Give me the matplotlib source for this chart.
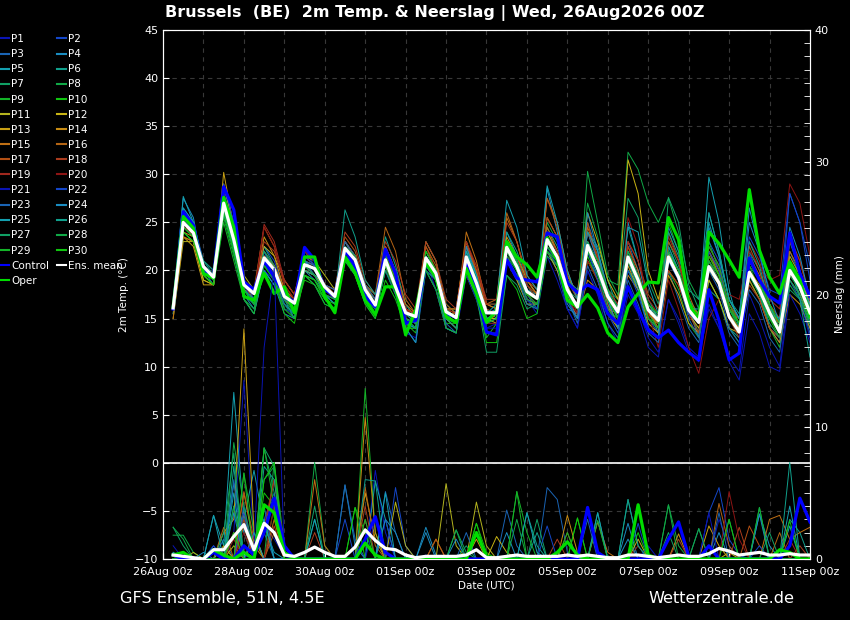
import numpy as np
import matplotlib.pyplot as plt
from matplotlib.ticker import MultipleLocator
from matplotlib.lines import Line2D

# forecast steps (hours after 26Aug 00z), 6-hourly
hours = list(range(6, 385, 6))
xtick_hours = [0, 48, 96, 144, 192, 240, 288, 336, 384]
xtick_labels = ["26Aug 00z", "28Aug 00z", "30Aug 00z", "01Sep 00z", "03Sep 00z",
                "05Sep 00z", "07Sep 00z", "09Sep 00z", "11Sep 00z"]

member_names = ["P%d" % k for k in range(1, 31)]
member_colors = ["#0a14b4", "#1446c8", "#1a64b4", "#1a8cc0", "#14a0b0", "#10a08c", "#10a064",
                 "#10a846", "#14b428", "#10c410", "#b4b41e", "#c8b414", "#c8a014", "#c88c14",
                 "#c07014", "#b46414", "#b45014", "#aa3c1e", "#a0281e", "#8c1414"]
member_colors = member_colors + member_colors[:10]

# 2m temperature (°C)
temp_mean = [16.1, 25.0, 23.9, 20.4, 19.3, 27.0, 23.2, 18.5, 17.6, 21.3, 20.1, 17.3, 16.6, 20.6, 20.2, 18.3,
             17.3, 22.3, 21.1, 18.0, 16.4, 21.1, 18.3, 15.6, 15.2, 21.3, 19.7, 15.7, 15.1, 21.4, 18.7, 15.6,
             15.6, 22.4, 20.4, 17.8, 17.1, 23.2, 21.4, 18.0, 16.2, 22.6, 20.2, 17.3, 15.7, 21.4, 19.0, 15.9,
             14.8, 21.4, 19.3, 15.9, 14.6, 20.4, 18.7, 15.2, 13.6, 19.8, 18.0, 15.6, 13.6, 20.0, 18.3, 15.6]
temp_control = [16.0, 26.1, 24.7, 19.8, 19.5, 28.7, 26.3, 18.8, 18.0, 21.0, 19.3, 17.6, 16.6, 22.4, 21.1, 18.0,
                17.4, 22.1, 20.4, 17.3, 16.2, 22.2, 19.7, 14.5, 14.8, 20.8, 19.7, 15.6, 15.1, 21.1, 18.0, 13.6,
                13.3, 21.1, 19.2, 19.0, 18.8, 23.9, 23.5, 18.7, 17.7, 18.5, 18.0, 15.5, 14.5, 18.3, 15.9, 13.8,
                13.0, 13.8, 12.5, 11.5, 10.7, 18.0, 14.8, 10.7, 11.4, 21.3, 19.0, 17.3, 16.6, 23.9, 19.7, 17.3]
temp_oper = [16.2, 25.6, 24.4, 19.7, 19.2, 27.6, 24.5, 17.3, 16.9, 19.7, 17.6, 18.3, 15.6, 21.4, 21.4, 17.3,
             15.6, 21.4, 19.8, 16.9, 15.4, 18.3, 18.3, 13.3, 15.9, 20.8, 19.3, 15.2, 14.6, 20.2, 17.6, 14.6,
             15.9, 23.0, 21.4, 20.6, 19.3, 23.4, 21.1, 16.9, 16.2, 17.5, 16.1, 13.5, 12.5, 16.2, 17.6, 18.8,
             18.7, 25.5, 23.2, 16.6, 14.8, 24.0, 22.8, 21.1, 19.3, 28.4, 22.1, 19.3, 17.6, 20.9, 19.0, 15.2]
temp_members = [
    # P1
    [16, 25.5, 24, 20, 19, 28, 24, 19, 17.5, 22, 19, 17, 16, 21, 20.5, 18, 17, 23, 21.5, 18.5, 16, 22, 19, 14.5,
     14, 21, 18, 15, 14, 20, 17, 14, 14.5, 21, 19.5, 17, 15.5, 21.5, 19, 16, 14, 20, 17.5, 14.5, 12.5, 18.5, 16, 13,
     11.5, 17, 15, 12, 11, 16, 14, 11, 9.5, 17.5, 15, 12, 10, 18.5, 17, 13],
    # P2
    [15.5, 26, 24.5, 20.5, 19.5, 28.5, 25, 18, 17, 22.5, 21, 18, 17, 22, 20.5, 18, 17, 22.5, 21, 17.5, 16, 21.5, 19, 15,
     14.5, 20.5, 19.5, 15.5, 15, 22, 19, 14.5, 14.5, 21, 19, 17.5, 16.5, 24, 22, 17, 15, 24, 21, 18, 16, 20, 18, 15,
     14, 22, 20, 16.5, 15, 23, 21, 16, 14.5, 22, 19, 16, 15, 28, 25, 19],
    # P3
    [16, 26.5, 25, 20, 19, 27.5, 24, 18, 16.5, 20.5, 19.5, 17, 16.5, 21, 19.5, 18, 17.5, 23, 21, 18, 17, 22.5, 20, 16,
     14.5, 22, 20, 16, 15, 22, 19, 15, 15, 23, 21, 17.5, 16, 22, 20, 16, 15.5, 25, 22, 18, 15, 23, 20, 15,
     13.5, 20, 17, 14, 12.5, 19, 17, 13.5, 12, 21, 19, 14, 12.5, 22, 19.5, 16],
    # P4
    [16, 27.5, 25.5, 20, 18.5, 26, 22, 17.5, 16, 20, 18.5, 16.5, 15.5, 20, 19, 17.5, 16.5, 21, 20, 17.5, 16, 20.5, 18, 14,
     12.5, 20, 18, 14, 13.5, 21, 18, 15.5, 16, 24, 21.5, 18.5, 17, 28.5, 24, 19, 17, 24, 21, 16.5, 14, 25, 21, 16,
     13.5, 22.5, 20, 16, 13, 26, 22, 17, 15, 26.5, 22, 16.5, 14, 23, 20, 16],
    # P5
    [16.5, 27.7, 25, 20.5, 19.5, 26.5, 23, 18, 17, 21.5, 20.5, 18, 16.5, 20, 19.5, 18.5, 18, 23, 21.5, 18.5, 17.5, 22, 19, 15,
     14, 20, 19, 15.5, 15, 21, 18.5, 15, 15.5, 22, 20, 18, 17.5, 23.5, 22, 18.5, 16, 22, 19.5, 17, 14, 20, 18.5, 16,
     15.5, 22, 19, 15.5, 15.5, 29.7, 25, 18, 14, 20, 17.5, 14, 13, 21, 18.5, 14.5],
    # P6
    [16, 25.5, 24.5, 21, 19.5, 27, 22.5, 18.5, 18, 22.5, 20.5, 17, 16, 20, 19.5, 18.5, 17.5, 22, 21, 18, 17, 23.5, 20.5, 16.5,
     15, 23, 21, 16.5, 15.5, 23, 19.5, 16, 15, 24, 22, 19, 17.5, 24.5, 22.5, 19, 18, 24, 22.5, 19, 16, 24.5, 21, 17,
     15, 22.5, 20, 16, 13.5, 18, 17, 14, 13, 22, 20, 16.5, 14.5, 20, 17.5, 14],
    # P7
    [15.5, 24, 23, 20, 19, 26, 22, 17, 15.5, 20, 18.5, 16.5, 15, 19.5, 19, 17, 16, 21, 20, 17.5, 16, 21, 18, 15.5,
     15, 21.5, 19.5, 16, 16, 22.5, 19, 16.5, 16.5, 22, 20, 17, 16, 21.5, 20.5, 18, 17, 22.5, 20.5, 18, 17, 27.5, 25.5, 19,
     16.5, 23, 20.5, 17, 15.5, 22, 19.5, 16, 14, 19, 17, 15, 14, 18, 17, 14.5],
    # P8
    [16, 24.5, 23.5, 20.5, 19, 26.5, 22.5, 18, 17, 21, 19.5, 17.5, 16.5, 21, 20.5, 18, 17.5, 22.5, 21, 17.5, 15.5, 20, 18, 15,
     14.5, 21, 19, 15, 14.5, 22, 19, 15, 15, 22.5, 21, 18.5, 17, 25, 23, 19.5, 17, 27, 23.5, 19, 18.5, 32.3, 30.5, 27,
     25, 27.5, 24, 19, 17, 23, 20, 16, 14, 20.5, 18, 15.5, 13.5, 19.5, 18, 15],
    # P9
    [16, 24, 23, 19.5, 18.5, 25.5, 21.5, 17.5, 16.5, 21, 19, 16.5, 15.5, 19.5, 19, 17.5, 16.5, 22, 20, 17, 15.5, 20, 17.5, 14,
     14, 20.5, 19, 15, 14, 19.5, 17, 13, 14.5, 21, 19.5, 16.5, 16, 22.5, 21, 17, 15, 21, 19.5, 16, 14.5, 22, 19, 15.5,
     14, 20, 18, 14.5, 13, 19, 17, 14, 12.5, 19, 17, 14, 12, 18.5, 17, 14.5],
    # P10
    [16, 25, 24, 20, 19, 27.5, 23.5, 18, 17, 20.5, 19.5, 16, 15.5, 19, 18.5, 17, 16, 21.5, 19.5, 16.5, 15, 19, 17, 14,
     14, 20, 18, 14.5, 14.5, 20, 17.5, 12.5, 12.5, 19.5, 18, 15, 15.5, 22, 21, 17.5, 16.5, 21.5, 19, 16, 15, 20, 18, 15,
     14.5, 25, 22, 17, 15, 21, 18.5, 15.5, 14, 19.5, 17.5, 15, 13, 20.5, 19, 16],
    # P11
    [15, 23, 23, 19, 18.5, 28, 24, 19.5, 18, 22.5, 21.5, 19, 17.5, 21.5, 21, 19.5, 18, 22.5, 21, 18.5, 17, 21, 19, 15.5,
     15.5, 21, 19, 15.5, 15.5, 19.5, 17.5, 15, 14.5, 21, 19, 16.5, 16.5, 22, 20, 17, 16, 23, 20.5, 17.5, 16, 21, 19, 16.5,
     15, 22, 19.5, 16, 14.5, 20, 18.5, 15, 14, 20, 18, 15.5, 14, 21.5, 19.5, 16.5],
    # P12
    [16, 23.5, 23, 19, 18.5, 29, 24.5, 19, 17.5, 21.5, 20.5, 18, 16.5, 20, 19.5, 18, 17.5, 22, 20.5, 17.5, 16.5, 21.5, 19.5, 16,
     15, 21, 19.5, 16, 15, 20, 17.5, 15, 15, 22, 20.5, 18, 17, 25.5, 23.5, 19.5, 17.5, 26, 23, 19, 17, 31.5, 28, 20,
     17, 22, 19, 15.5, 14, 19, 17, 14, 13.5, 20, 18.5, 16, 14, 20, 18, 15.5],
    # P13
    [16, 23.5, 22.5, 18.5, 18.5, 30.2, 24.5, 18.5, 16.5, 21, 19.5, 17, 16, 20, 19.5, 18, 17, 22, 21, 18, 16.5, 21.5, 19, 16,
     15.5, 22, 20, 16, 16, 23, 20, 16.5, 16, 23.5, 21.5, 19, 17.5, 24, 22, 18.5, 16, 21, 19, 15.5, 14, 20.5, 18, 14.5,
     13.5, 19.5, 17.5, 14.5, 13.5, 21.5, 19.5, 16, 15, 21, 19, 16, 13.5, 19, 17.5, 15],
    # P14
    [16, 24, 23.5, 19.5, 18.5, 27, 23, 18, 17.5, 23.5, 21.5, 18, 17, 21, 20, 18.5, 17.5, 22.5, 21.5, 18.5, 16.5, 20.5, 18, 15,
     14.5, 21, 19, 15, 14, 20.5, 18, 14.5, 15.5, 22.5, 20, 17, 16.5, 23, 21, 17.5, 15, 19, 18, 16, 15.5, 19.5, 18, 15.5,
     14.5, 21, 19.5, 16.5, 15.5, 22, 20, 16.5, 14.5, 19, 17, 14, 12.5, 17.5, 16.5, 14],
    # P15
    [15, 23.5, 23, 20, 19, 26.5, 23, 19, 18, 24.5, 22.5, 18.5, 17, 21, 20.5, 18.5, 17.5, 23, 21.5, 18, 16.5, 22.5, 20, 16.5,
     15.5, 23, 21, 16, 15.5, 24, 21, 16.5, 16, 25.5, 23, 19, 17.5, 24.5, 22, 17.5, 16, 24.5, 21.5, 17.5, 15.5, 22.5, 20, 16,
     14, 20, 18.5, 15.5, 14.5, 21, 19, 15, 13.5, 21.5, 19.5, 16, 14.5, 22, 20, 16.5],
    # P16
    [16, 24.5, 23.5, 20, 19, 27.5, 23.5, 18.5, 17, 21.5, 20, 17, 16, 20.5, 19.5, 17.5, 17, 23, 21.5, 18.5, 17.5, 24.5, 22, 17,
     15.5, 22.5, 20.5, 16.5, 15.5, 22.5, 20, 16.5, 17, 26, 23, 19.5, 18, 27.5, 25, 20, 17, 23, 20.5, 16.5, 14.5, 21, 18.5, 15.5,
     14.5, 23, 21, 17.5, 15, 22, 19.5, 15.5, 14, 21, 19, 15.5, 14.5, 20, 18, 15],
    # P17
    [16, 25, 24, 20.5, 19.5, 27, 23.5, 19, 17.5, 22, 20.5, 18, 17, 21.5, 21, 18.5, 18, 23.5, 22, 18.5, 17, 22.5, 19.5, 16,
     15.5, 22.5, 20, 16, 16, 23, 20, 16, 15.5, 23, 21.5, 18.5, 17.5, 27.5, 24.5, 19.5, 17.5, 25, 21, 17, 15, 23, 21, 17.5,
     16, 24, 21, 16.5, 14.5, 22, 20, 16.5, 15, 22.5, 20, 16.5, 15, 23.5, 21, 17],
    # P18
    [16, 24.5, 24, 20.5, 19.5, 27, 23.5, 18.5, 17.5, 23, 22, 19, 17.5, 22, 21, 18.5, 18, 24, 22.5, 19, 17.5, 23, 21, 17.5,
     16, 23, 21, 17, 16, 22.5, 20.5, 17, 17, 25, 23, 19, 18, 25.5, 23.5, 19, 17, 24, 21.5, 18, 16.5, 22.5, 19.5, 15,
     14, 20, 18.5, 15.5, 13.5, 21, 19, 15, 13, 18.5, 17, 14, 13, 19.5, 18.5, 15.5],
    # P19
    [16, 25, 23.5, 20, 19, 28, 23, 18.5, 17.5, 24.8, 23, 19, 17.5, 21.5, 20.5, 18, 17, 22.5, 20.5, 17.5, 16, 21.5, 19.5, 16,
     15.5, 22, 20, 16, 15.5, 23, 20.5, 16.5, 16.5, 23, 21, 18.5, 17, 23.5, 22, 18, 15.5, 22.5, 20, 17, 15.5, 23, 21, 17,
     15.5, 23.5, 21, 16.5, 14.5, 22.5, 20.5, 16, 15, 23, 21, 17, 16, 23, 21, 17],
    # P20
    [16, 25, 24, 20.5, 19.5, 26.5, 23, 18.5, 17.5, 24.5, 22.5, 18.5, 17, 22, 21, 18.5, 17.5, 22, 21, 18, 16, 21.5, 19, 16,
     15, 20.5, 19, 15.5, 14.5, 20.5, 18, 14.5, 14.5, 21.5, 20.5, 17.5, 16.5, 22, 20.5, 17, 15.5, 21, 19, 16, 14.5, 25.5, 22.5, 15.5,
     12, 19, 16, 12, 9.3, 15, 17, 17.5, 17, 22, 20.5, 19, 19.5, 29, 27, 21.5],
    # P21
    [16, 26, 24.5, 20, 19.5, 28, 24, 18.5, 16.5, 20, 19, 16, 15.5, 21, 20, 18, 17, 22.5, 21, 17.5, 15.5, 20, 17.5, 13.5,
     13, 20, 18, 14, 13.5, 19.5, 17, 14, 14, 22, 20, 17, 16, 22.5, 20.5, 16, 14, 20, 17.5, 13.5, 12.5, 17.5, 15.5, 12,
     11, 17, 14.5, 11.5, 10.5, 16.5, 14, 10.5, 8.6, 15.5, 13.5, 10, 9.5, 17.5, 15.5, 12.5],
    # P22
    [16, 25.5, 24, 20.5, 19.5, 29, 25, 19, 17, 21, 19.5, 17, 16.5, 21.5, 20.5, 18, 17.5, 22.5, 21, 18, 16.5, 21, 18.5, 15.5,
     14.5, 21.5, 19.5, 15.5, 15, 21.5, 18.5, 15.5, 15.5, 22.5, 21, 18, 17, 22, 20.5, 17, 15, 22, 19, 15.5, 13.5, 20, 17.5, 14,
     13, 21, 19, 15.5, 14.5, 22, 20, 16, 14.5, 23.5, 21.5, 18, 17.5, 28, 25, 20.5],
    # P23
    [16, 26, 25, 21, 20, 27.5, 23, 17.5, 16.5, 21, 19.5, 16.5, 15.5, 21, 20.5, 18.5, 18, 23, 21.5, 18.5, 17, 21.5, 18.5, 14.5,
     14, 21, 19, 14.5, 13.5, 21, 18, 13.5, 13.5, 21.5, 19.5, 16.5, 16, 22.5, 21, 17, 14.5, 20.5, 18, 14.5, 13, 19, 16.5, 13.5,
     12.5, 21, 19, 15, 13, 20, 18, 14, 12.5, 18, 16.5, 13, 11.5, 19, 17, 13.5],
    # P24
    [16, 25, 24, 20, 19, 26, 22, 17, 15.5, 20, 18.5, 15.5, 15, 20.5, 19.5, 17.5, 16.5, 21.5, 20.5, 17.5, 16, 21, 18.5, 14,
     12.5, 21, 19, 14, 13.5, 22.5, 19.5, 14.5, 15, 23, 21, 18, 17, 23, 21, 16.5, 15, 26, 22, 17, 14, 21, 18, 14,
     13, 24.5, 22, 17, 14.5, 24.5, 21.5, 17, 15, 25, 22, 17.5, 14.5, 24.5, 21.5, 17],
    # P25
    [16, 26.5, 25, 20.5, 19, 27, 22.5, 18, 16.5, 21, 20, 17.5, 16.5, 21, 20, 18, 17.5, 22, 20.5, 17.5, 16.5, 21.5, 18.5, 14.5,
     14, 21.5, 20, 15.5, 14.5, 22, 19.5, 15.5, 16.5, 27.3, 24.5, 19.5, 18, 28.8, 25, 20, 17, 24, 22, 18, 15, 24.5, 24, 18.5,
     15.5, 22, 20, 16, 16, 25, 21.5, 17, 15, 21.5, 19, 15.5, 15, 21, 19, 16.5],
    # P26
    [16, 25.5, 24.5, 20.5, 19.5, 27, 23, 18, 17, 22, 20, 17, 15, 20, 19.5, 17.5, 17, 26.3, 23.5, 19, 17.5, 22, 19.5, 15.5,
     14.5, 20.5, 19, 15, 14, 21, 18.5, 15, 15.5, 23, 21, 18, 17, 23.5, 21.5, 17.5, 16, 23, 21, 17, 15, 22, 19.5, 16.5,
     15, 24, 21.5, 18, 17, 26, 22, 17, 15.5, 23, 20.5, 16.5, 13.5, 20.5, 17, 11],
    # P27
    [16, 25, 24, 21, 20, 26.5, 22.5, 19, 17.5, 22, 20.5, 17.5, 15.5, 19.5, 18.5, 16.5, 16, 21, 19.5, 17, 15.5, 20, 17.5, 15,
     14.5, 22, 20, 16, 15, 21, 17.5, 11.5, 11.5, 19.5, 18.5, 16, 16.5, 23, 21.5, 17.5, 16.5, 23, 20, 16, 14.5, 21, 19, 15,
     14, 27.6, 25, 18.5, 16, 21, 19, 15, 13.5, 19.5, 17.5, 14.5, 13, 19, 17.5, 14.5],
    # P28
    [16, 24.5, 23.5, 20, 19, 26.5, 22, 17, 16, 21, 19.5, 17, 15.5, 20.5, 19.5, 17.5, 17, 22.5, 21.5, 18, 16.5, 21, 18, 15,
     14, 20.5, 19.5, 15, 14.5, 21, 18.5, 15.5, 15.5, 21.5, 20, 17, 16.5, 22, 20.5, 17.5, 16, 30.3, 25, 19.5, 17.5, 22, 19.5, 16,
     15, 22, 20, 16.5, 15, 21, 19.5, 16, 14.5, 20.5, 19, 16, 14, 19.5, 18, 15],
    # P29
    [16, 24.5, 23.5, 19.5, 18.5, 25, 21, 17, 15.5, 20.5, 19, 16, 15, 19.5, 18.5, 16.5, 16, 21, 19.5, 16.5, 15, 20.5, 18, 14.5,
     13.5, 20, 18, 14, 13.5, 20.5, 18, 14.5, 15, 22.5, 21, 17.5, 16.5, 22, 21, 17.5, 16.5, 22.5, 21, 18, 16, 21, 18.5, 15,
     14, 21.5, 20, 16.5, 15, 22.5, 20.5, 16.5, 14.5, 21.5, 19, 15, 13.5, 20.5, 18.5, 15.5],
    # P30
    [16, 24, 23, 19.5, 18.5, 26, 22, 18, 16.5, 20.5, 19, 15.5, 14.5, 19.5, 19, 17, 16.5, 22, 20.5, 17, 16, 21.5, 19, 15.5,
     15, 22, 20, 15.5, 15, 21, 18.5, 15.5, 15.5, 22, 20, 17.5, 17, 22.5, 21, 17.5, 16.5, 22, 20, 17, 15, 21, 19, 16.5,
     15.5, 21.5, 19.5, 16, 15.5, 21.5, 19.5, 16, 14.5, 21, 19, 16.5, 14.5, 20.5, 18.5, 15.5],
]

# precipitation (mm per 6 h)
rain_mean = [0.3, 0.2, 0.1, 0.0, 0.7, 0.7, 1.7, 2.6, 0.7, 2.7, 2.0, 0.3, 0.2, 0.5, 0.9, 0.5,
             0.2, 0.2, 0.9, 2.2, 1.4, 0.8, 0.7, 0.3, 0.1, 0.2, 0.2, 0.2, 0.2, 0.3, 0.7, 0.1,
             0.1, 0.2, 0.3, 0.2, 0.2, 0.2, 0.2, 0.3, 0.2, 0.3, 0.2, 0.1, 0.1, 0.3, 0.3, 0.2,
             0.1, 0.2, 0.3, 0.2, 0.2, 0.4, 0.8, 0.6, 0.3, 0.4, 0.5, 0.3, 0.3, 0.4, 0.3, 0.3]
rain_control = [0.3, 0, 0, 0, 0.5, 0, 0, 1, 0.3, 2, 4.6, 1, 0, 0, 0, 0,
                0, 0, 0, 1.5, 3.2, 0.5, 0, 0, 0, 0, 0, 0, 0, 0, 0, 0,
                0, 0, 0, 0, 0, 0, 0, 0, 0, 3.9, 0.5, 0, 0, 0, 0, 0,
                0, 1.5, 2.8, 0.2, 0, 1, 0, 0, 0, 0, 0, 0, 0, 1, 4.6, 2.8]
rain_oper = [0.3, 0.5, 0, 0, 0.7, 0.3, 0, 0.5, 0, 4.1, 3.5, 0.5, 0, 0, 0, 0,
             0, 0, 0, 1.2, 0.3, 0, 0, 0, 0, 0, 0, 0, 0, 0, 2, 0.2,
             0, 0, 0, 0, 0, 0, 0.5, 1.3, 0.3, 0, 0, 0, 0, 0, 4.1, 0.3,
             0, 0, 0, 0, 0, 0, 0, 0, 0, 0, 0, 0, 0.7, 0.5, 0, 0]
rain_members = [
    # P1
    [1, 0, 0, 0, 0, 0, 2, 13.5, 1, 2.5, 1.5, 0.2, 0, 0, 0, 0, 0, 0, 0, 0, 6.7, 2, 0, 0, 0, 0.3, 0, 0, 0, 0, 0, 0,
     0, 0, 0, 0, 0, 0, 0, 0, 0, 0, 0, 0, 0, 0, 0, 0, 0, 0, 0, 0, 0, 0, 3, 1, 0, 0, 0, 0, 0, 0, 0, 0],
    # P2
    [0, 0, 0, 0, 1, 0, 0, 0.3, 0, 3, 5, 0.5, 0, 0, 0, 0, 0, 0, 0, 0, 0, 0, 5.4, 1, 0, 0, 0, 0, 0, 0, 0, 0,
     0, 0, 0, 0, 0, 0, 0, 0, 0, 0, 0, 0, 0, 0, 0, 0, 0, 0, 0, 0, 0, 3.5, 5.4, 1.5, 0.3, 0, 0, 0, 0, 0, 0, 0],
    # P3
    [0, 0, 0, 0, 0, 1.5, 0, 4, 0.5, 2, 0, 0, 0, 0, 0, 0, 0, 0, 0, 0, 0, 5.1, 2, 0, 0, 0, 0, 0, 0, 0, 0, 0,
     0, 3.7, 1, 0, 0, 5.4, 4.5, 0.5, 0, 0, 0, 0, 0, 0, 0, 0, 0, 0, 0, 0, 0, 0, 0, 0, 0, 0, 0, 0, 0, 0, 0, 0],
    # P4
    [0.5, 0, 0, 0, 0, 0, 5.7, 2, 0, 0, 0, 0, 0, 0, 0, 0, 0, 5.6, 1, 0, 0, 0, 0, 0, 0, 2.4, 0.3, 0, 0, 0, 0, 0,
     0, 0, 0, 0, 0, 0, 0, 0, 0, 0, 0, 0, 0, 2.7, 0, 0, 0, 0, 0, 0, 0, 0, 2, 0, 0, 0, 3.4, 1, 0, 0, 0, 0],
    # P5
    [0, 0, 0, 0, 3.3, 1, 12.6, 3, 6.7, 2.5, 0.5, 0, 0, 0, 0, 0, 0, 0, 0, 0, 5.9, 3, 0, 0, 0, 0, 0, 0, 0, 0, 0, 0,
     0, 0, 0, 0, 0, 0, 0, 0, 0, 0, 0, 0, 0, 0, 0, 0, 0, 0, 0, 0, 0, 0, 0, 0, 0, 0, 0, 0, 0, 2.5, 0, 0],
    # P6
    [0, 0, 0, 0, 0, 0, 4, 0.5, 0, 3, 0, 0, 0, 0, 3, 0, 0, 0, 0, 0, 0, 0, 0, 0, 0, 0, 0, 0, 0, 0, 0, 0,
     0, 0, 0, 3.5, 1, 0, 0, 0, 0, 0, 3.5, 0, 0, 4.5, 1, 0, 0, 0, 0, 0, 0, 0, 0, 0, 0, 0, 0, 0, 0, 3, 2, 0],
    # P7
    [2.4, 1, 0, 0, 0, 0, 0, 3, 0, 8.4, 5, 0, 0, 0, 0, 0, 0, 0, 0, 0, 0, 0, 0, 0, 0, 0, 0, 0, 2.2, 0.5, 0, 0,
     0, 0, 0, 0, 3, 0, 0, 0, 0, 0, 0, 0, 0, 0, 0, 0, 0, 0, 0, 0, 0, 0, 0, 0, 0, 0, 0, 0, 0, 0, 0, 0],
    # P8
    [1.8, 1.8, 0.5, 0, 0, 0, 8.8, 4, 0, 0, 7.3, 1, 0, 0, 7.3, 1, 0, 0, 0, 0, 0, 0, 0, 0, 0, 0, 0, 0, 0, 0, 0, 0,
     0, 0, 0, 0, 0, 0, 0, 0, 0, 0, 0, 0, 0, 0, 0, 0, 0, 4.1, 1, 0, 0, 0, 0, 0, 0, 0, 0, 0, 0, 0, 0, 0],
    # P9
    [0, 0, 0, 0, 0, 0, 0, 6.5, 2, 0, 4, 0, 0, 0, 0, 0, 0, 0, 0, 12.9, 2, 0, 0, 0, 0, 0, 0, 0, 0, 0, 0, 0,
     0, 0, 5.1, 2, 0, 0, 0, 0, 0, 0, 0, 0, 0, 0, 0, 0, 0, 0, 0, 0, 2.3, 0, 0, 0, 0, 0, 0, 0, 0, 0, 0, 0],
    # P10
    [0, 0, 0, 0, 0, 0, 0, 0, 0, 5, 4, 0, 0, 0, 0, 0, 0, 0, 3.9, 2, 0, 0, 0, 0, 0, 0, 0, 0, 0, 0, 2.7, 0.5,
     0, 0, 0, 0, 0, 0, 0, 0, 3.1, 0, 2.9, 0, 0, 0, 0, 0, 0, 0, 0, 0, 0, 0, 0, 3, 0, 0, 3.9, 0, 0, 0, 0, 0],
    # P11
    [0, 0, 0.5, 0, 0, 0, 1, 0, 1.5, 0, 0, 0, 0, 0, 0, 0, 0, 0, 0, 0, 0, 0, 4.3, 1, 0, 0, 0, 5.7, 1, 0, 4.3, 1,
     0, 0, 0, 0, 0, 0, 0, 0, 0, 0, 0, 0, 0, 0, 0, 0, 0, 0, 0, 0, 0, 0, 0, 0, 0, 0, 0, 0, 0, 0, 0, 0],
    # P12
    [0, 0, 0, 0, 0, 1, 0, 3.5, 0, 0, 0, 0, 0, 0, 0, 0, 0, 0, 0, 0, 0, 0, 0, 0, 0, 0, 0, 0, 0, 0, 0, 0,
     1.7, 0.5, 0, 0, 0, 0, 0, 0, 0, 0, 0, 0, 0, 0, 1.5, 0, 0, 0, 0, 0, 0, 0, 0, 0.5, 0, 0, 0, 0, 0, 0, 0, 0],
    # P13
    [0, 0, 0, 0, 0, 2, 3, 17.4, 2, 0, 0, 0, 0, 0, 0, 0, 0, 0, 0, 5, 1.5, 0, 0, 0, 0, 0, 0, 0, 0, 0, 1.5, 0,
     0, 0, 0, 0, 0, 0, 0, 0, 0, 0, 0, 0, 0, 0, 0, 0, 0, 0, 0, 0, 0, 2.5, 1, 0, 0, 0, 0, 0, 0, 0, 0, 0],
    # P14
    [0, 0, 0, 0, 0, 0, 0, 5, 1, 0, 0, 0, 0, 0, 0, 0, 0, 0, 0, 10.7, 2, 0, 0, 0, 0, 0, 1.5, 0, 0, 0, 0, 0,
     0, 0, 0, 0, 0, 0, 0, 3.3, 0.5, 0, 0, 0, 0, 0, 0, 0, 0, 0, 1.9, 0, 0, 0, 0, 0, 0, 0, 0, 0, 0, 0, 0, 0],
    # P15
    [0, 0, 0, 0, 0, 0, 2, 0, 0, 0, 3, 0, 0, 0, 6, 1, 0, 0, 0, 0, 0, 0, 0, 0, 0, 0, 0, 0, 0, 0, 0, 0,
     0, 0, 0, 0, 0, 0, 0, 0, 0, 0, 2.8, 0.5, 0, 0, 0, 0, 0, 0, 0, 0, 0, 0, 0, 0, 0, 0, 0, 3, 3.3, 1.5, 2, 2.4],
    # P16
    [0, 0, 0, 0, 0, 2.4, 0, 2.5, 0, 0, 2, 0, 0, 0, 0, 0, 0, 0, 0, 5.4, 1, 0, 0, 0, 0, 0, 0, 0, 0, 0, 0, 0,
     0, 0, 0, 0, 0, 0, 0, 2, 0, 0, 0, 0, 0, 0, 0, 0, 0, 0, 0, 0, 0, 0, 4.2, 1, 0, 0, 0, 0, 2, 0, 0, 0],
    # P17
    [0, 0, 0, 0, 0, 0, 0, 5.1, 1.5, 2, 6, 1, 0, 0, 0, 0, 0, 0, 0, 0, 0, 0, 0, 0, 0, 0, 1.5, 0, 0, 0, 0, 0,
     0, 0, 0, 0, 0, 0, 0, 0, 0, 0, 0, 0, 0, 0, 0, 0, 0, 0, 0, 0, 0, 0, 0, 0, 0, 2.5, 1, 0, 0, 0, 0, 0],
    # P18
    [0, 0, 0, 0, 0, 0, 0, 3, 0, 0, 2.5, 0, 0, 0, 2, 0, 0, 0, 0, 4, 0, 0, 0, 0, 0, 0, 0, 0, 0, 0, 0, 0,
     0, 0, 0, 0, 0, 0, 1.5, 0, 0, 0, 0, 0, 0, 0, 0, 0, 0, 0, 1.5, 0, 0, 0, 0, 0, 2.4, 0, 0, 0, 0, 0, 1, 0],
    # P19
    [0, 0, 0, 0, 0, 0, 1.5, 0, 0, 2.5, 6, 1, 0, 0, 0, 0, 0, 0, 0, 3, 0, 0, 0, 0, 0, 0, 0, 0, 0, 0, 0, 0,
     0, 0, 0, 0, 0, 0, 0, 0, 0, 0, 0, 0, 0, 0, 1, 0, 0, 0, 0, 0, 0, 0, 0, 0, 0, 0, 0, 0, 0, 1.5, 0, 0],
    # P20
    [0, 0, 0, 0, 0, 0, 0, 2, 0, 0, 4, 0, 0, 0, 0, 0, 0, 0, 0, 0, 0, 0, 0, 0, 0, 0, 0, 0, 0, 0, 0, 0,
     0, 0, 0, 0, 0, 0, 0, 0, 0, 0, 0, 0, 0, 0, 0, 0, 0, 0, 0, 0, 0, 0, 0, 5.1, 1.5, 0, 0, 0, 0, 0, 0, 0],
    # P21
    [0, 0, 0, 0, 0, 0, 0, 0, 1, 16, 22, 0.5, 0, 0, 0, 0, 0, 0, 0, 0, 3, 0, 0, 0, 0, 0, 0, 0, 0, 0, 0, 0,
     0, 0, 0, 0, 0, 0, 0, 0, 0, 0, 0, 0, 0, 0, 0, 1, 0, 0, 0, 0, 0, 3.5, 0, 0, 0, 0, 0, 0, 0, 0, 0, 0],
    # P22
    [0, 0, 0, 0, 1, 0, 0, 3.5, 0, 0, 0, 0, 0, 0, 0, 0, 0, 3, 0, 0, 0, 3, 0, 0, 0, 0, 0, 0, 0, 0, 0, 0,
     0, 0, 0, 0, 0, 2.5, 0, 0, 0, 0, 0, 0, 0, 0, 2.7, 0, 0, 0, 0, 0, 0, 0, 0, 0, 0, 0, 1, 0, 0, 0, 0, 0],
    # P23
    [0, 0, 0, 0, 0, 0, 6, 0, 0, 4, 0, 0, 0, 0, 0, 0, 0, 5.6, 1.5, 0, 0, 0, 0, 0, 0, 0, 0, 0, 0, 2, 0, 0,
     0, 0, 0, 0, 0, 0, 0, 0, 0, 3, 0, 0, 0, 0, 0, 0, 0, 0, 0, 0, 0, 0, 3.5, 0, 0, 0, 0, 0, 0, 0, 0, 0],
    # P24
    [0, 0, 0, 0.5, 0, 0, 3.5, 0, 2, 0, 0, 0, 0, 0, 0, 0, 0, 0, 0, 0, 0, 3, 2, 0, 0, 2, 0, 0, 1.5, 0, 0, 0,
     0, 2, 0, 0, 0, 0, 0, 0, 0, 0, 0, 0, 0, 1.5, 0, 0, 0, 0, 0, 0, 0, 0, 0, 0, 0, 0, 3.4, 0, 0, 0, 0, 0],
    # P25
    [0, 0, 0, 0, 3.3, 0, 5, 0, 0, 3, 0, 0, 0, 0, 3, 0, 0, 0, 0, 0, 0, 5, 0, 0, 0, 0, 0, 0, 0, 0, 0, 0,
     0, 0, 0, 3.5, 0.5, 0, 0, 0, 0, 0, 3.5, 0, 0, 0, 0, 0, 0, 0, 0, 0, 0, 0, 0, 0, 0, 0, 0, 0, 0, 4, 0, 0],
    # P26
    [0.5, 0, 0, 0, 0, 0, 7, 0, 0, 7, 6, 0, 0, 0, 0, 0, 0, 0, 0, 6, 5.9, 0, 0, 0, 0, 0, 0, 0, 0, 0, 0, 0,
     0, 0, 0, 0, 2, 0, 0, 0, 0, 0, 0, 0, 0, 4.5, 1, 0, 0, 0, 0, 0, 0, 0, 0, 0, 0, 0, 0, 0, 0, 7.3, 0, 0],
    # P27
    [0, 0, 0, 0, 0, 2, 8, 0, 0, 8.4, 7, 0, 0, 0, 4, 0, 0, 0, 0, 0, 0, 0, 0, 0, 0, 0, 0, 0, 0, 1, 0, 0,
     0, 0, 0, 0, 0, 0, 0, 0, 0, 0, 0, 0, 0, 0, 0, 0, 0, 2, 0, 0, 2.3, 0, 0, 0, 0, 0, 0, 2, 0, 0, 0, 0],
    # P28
    [2.4, 1.5, 0, 0, 0, 0, 4, 0, 0, 6, 7, 0, 0, 0, 0, 0, 0, 0, 0, 0, 0, 0, 0, 0, 0, 0, 0, 0, 2.2, 0, 0, 0,
     0, 0, 3, 0, 0, 0, 0, 0, 0, 0, 2.9, 0, 0, 0, 0, 0, 0, 4.1, 0, 0, 0, 0, 0, 0, 0, 0, 3.9, 0, 0, 0, 0, 0],
    # P29
    [0, 0.5, 0, 0, 0, 0, 0, 6.5, 0, 8.4, 4, 0, 0, 0, 0, 0, 0, 0, 0, 3, 0, 0, 0, 0, 0, 0, 0, 0, 0, 0, 0, 0,
     0, 0, 5.1, 0, 0, 0, 0, 2, 0, 0, 0, 0, 0, 0, 0, 0, 0, 0, 0, 0, 0, 0, 0, 3, 0, 0, 0, 0, 0, 0, 0, 0],
    # P30
    [0, 0, 0, 0, 0, 0, 2, 0, 0, 6, 7.3, 0, 0, 0, 0, 0, 0, 0, 3.9, 0, 0, 0, 0, 0, 0, 0, 0, 0, 0, 0, 2.7, 0,
     0, 0, 0, 0, 0, 0, 0, 0, 3.1, 0, 0, 0, 0, 0, 2, 0, 0, 0, 0, 0, 0, 0, 0, 0, 0, 0, 0, 0, 0, 2.9, 0, 0],
]

fig = plt.figure(figsize=(8.5, 6.2), dpi=100, facecolor="black")
ax = fig.add_axes([0.1918, 0.0984, 0.7611, 0.8532])
ax.set_facecolor("black")
ax2 = ax.twinx()

grid_kw = dict(color="#383838", lw=0.8, ls=(0, (4, 4)))
ax.set_xlim(0, 384)
ax.set_ylim(-10, 45)
ax2.set_ylim(0, 40)
ax.set_xticks(xtick_hours)
ax.set_xticklabels(xtick_labels)
ax.set_xticks(range(0, 385, 24), minor=True)
ax.set_yticks(range(-10, 46, 5))
ax.grid(which="both", axis="x", **grid_kw)
ax.grid(which="major", axis="y", **grid_kw)
ax.set_axisbelow(True)
ax.axhline(0, color="white", lw=1.2, zorder=1)

for k in range(30):
    ax.plot(hours, temp_members[k], color=member_colors[k], lw=0.7, zorder=2)
    ax2.plot(hours, rain_members[k], color=member_colors[k], lw=0.7, zorder=2)
ax.plot(hours, temp_control, color="#0000ff", lw=2.3, zorder=3)
ax.plot(hours, temp_oper, color="#00dd00", lw=2.3, zorder=4)
ax.plot(hours, temp_mean, color="white", lw=2.3, zorder=5)
ax2.plot(hours, rain_control, color="#0000ff", lw=2.3, zorder=3)
ax2.plot(hours, rain_oper, color="#00dd00", lw=2.3, zorder=4)
ax2.plot(hours, rain_mean, color="white", lw=2.3, zorder=5)

ax2.set_yticks([0, 10, 20, 30, 40])
ax2.yaxis.set_minor_locator(MultipleLocator(1))

for a in (ax, ax2):
    for s in a.spines.values():
        s.set_color("white")
    a.tick_params(which="both", colors="white", direction="in", labelsize=8, length=4)
ax.tick_params(axis="x", which="minor", length=0)
ax.tick_params(axis="x", which="major", pad=6)

ax.set_ylabel("2m Temp. (°C)", color="white", fontsize=7.5)
ax2.set_ylabel("Neerslag (mm)", color="white", fontsize=7.5)
ax.set_xlabel("Date (UTC)", color="white", fontsize=7.5, labelpad=2)

fig.text(0.512, 0.979, "Brussels  (BE)  2m Temp. & Neerslag | Wed, 26Aug2026 00Z",
         color="white", fontsize=11.5, fontweight="bold", ha="center", va="center")
fig.text(0.141, 0.035, "GFS Ensemble, 51N, 4.5E", color="white", fontsize=11.6, ha="left", va="center")
fig.text(0.935, 0.035, "Wetterzentrale.de", color="white", fontsize=11.6, ha="right", va="center")

# legend: two columns, filled row by row like the original
handles = [Line2D([], [], color=c, lw=1.5) for c in member_colors]
labels = list(member_names)
h_ctl = Line2D([], [], color="#0000ff", lw=1.5)
h_op = Line2D([], [], color="#00dd00", lw=1.5)
h_mean = Line2D([], [], color="white", lw=1.5)
col1_h = handles[0::2] + [h_ctl, h_op]
col1_l = labels[0::2] + ["Control", "Oper"]
col2_h = handles[1::2] + [h_mean]
col2_l = labels[1::2] + ["Ens. mean"]
fig.legend(col1_h + col2_h, col1_l + col2_l, loc="upper left", bbox_to_anchor=(0.0, 0.945),
           ncol=2, frameon=False, fontsize=7.5, labelcolor="white", handlelength=0.9,
           handletextpad=0.15, columnspacing=0.75, labelspacing=0.49, borderaxespad=0, borderpad=0)

fig.savefig("out.png", dpi=100, facecolor="black")
